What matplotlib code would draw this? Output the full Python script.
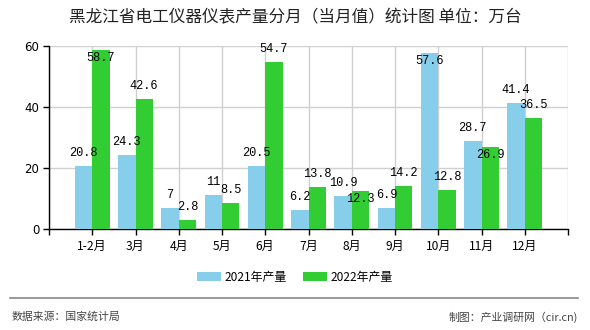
import matplotlib
matplotlib.use("Agg")
import matplotlib.pyplot as plt
import numpy as np

plt.rcParams['font.family'] = ['Noto Sans CJK SC', 'DejaVu Sans']

# Monthly output (10k units)
months = ["1-2月", "3月", "4月", "5月", "6月", "7月", "8月", "9月", "10月", "11月", "12月"]
output_2021 = [20.8, 24.3, 7, 11, 20.5, 6.2, 10.9, 6.9, 57.6, 28.7, 41.4]
output_2022 = [58.7, 42.6, 2.8, 8.5, 54.7, 13.8, 12.3, 14.2, 12.8, 26.9, 36.5]
series_names = ["2021年产量", "2022年产量"]
y_ticks = [0, 20, 40, 60]

title = "黑龙江省电工仪器仪表产量分月（当月值）统计图 单位：万台"
source_text = "数据来源：国家统计局"
credit_text = "制图：产业调研网（cir.cn)"

c2021 = "#87CEEB"
c2022 = "#32CD32"

fig = plt.figure(figsize=(5.9, 3.3), dpi=100)
ax = fig.add_axes([49 / 590, 1 - 229 / 330, (568 - 49) / 590, (229 - 46) / 330])

x = np.arange(len(months))
w = 0.40
bars1 = ax.bar(x - w / 2, output_2021, width=w, color=c2021, zorder=3, label=series_names[0])
bars2 = ax.bar(x + w / 2, output_2022, width=w, color=c2022, zorder=3, label=series_names[1])

ax.set_xlim(-1, len(months))
ax.set_ylim(0, 60)
ax.set_yticks(y_ticks)
ax.set_yticklabels([str(v) for v in y_ticks], fontsize=8.5, family='DejaVu Sans')
ax.set_xticks(np.arange(-1, len(months) + 1))
ax.set_xticklabels([""] + months + [""], fontsize=8.7)
ax.tick_params(axis='both', length=4, width=1, color='black', pad=3)
ax.tick_params(axis='x', pad=4)

ax.grid(True, color="#d0d0d0", linewidth=1, zorder=0)
ax.set_axisbelow(True)
for side in ("top", "right"):
    ax.spines[side].set_visible(False)
ax.spines["left"].set_color("black")
ax.spines["bottom"].set_color("black")
ax.spines["left"].set_linewidth(1)
ax.spines["bottom"].set_linewidth(1)


def place_labels(bars, values, shifted):
    for i, (b, v) in enumerate(zip(bars, values)):
        dy = -5.5 if i in shifted else 9.4
        ax.annotate(f"{v:g}", (b.get_x() + b.get_width() / 2, v),
                    xytext=(0, dy), textcoords="offset points",
                    ha="center", va="center", fontsize=8.6,
                    family="Liberation Mono", color="black", zorder=5)


place_labels(bars1, output_2021, shifted={8})
place_labels(bars2, output_2022, shifted={0, 6, 9})

fig.text(0.5, 1 - 18 / 330, title, ha="center", va="center", fontsize=12, color="#222222")

leg = fig.legend(handles=[bars1, bars2], labels=series_names, loc="center",
                 bbox_to_anchor=(0.5, 1 - 277 / 330), ncol=2, frameon=False,
                 fontsize=8.6, handlelength=2.0, handleheight=0.7,
                 columnspacing=1.4, handletextpad=0.3)

fig.add_artist(plt.Line2D([10 / 590, 578 / 590], [1 - 298 / 330, 1 - 298 / 330],
                          color="#888888", linewidth=1.2))
fig.text(12 / 590, 1 - 317 / 330, source_text, ha="left", va="center",
         fontsize=7.8, color="#444444")
fig.text(578 / 590, 1 - 317 / 330, credit_text, ha="right", va="center",
         fontsize=7.8, color="#444444")

fig.savefig("out.png", dpi=100)
